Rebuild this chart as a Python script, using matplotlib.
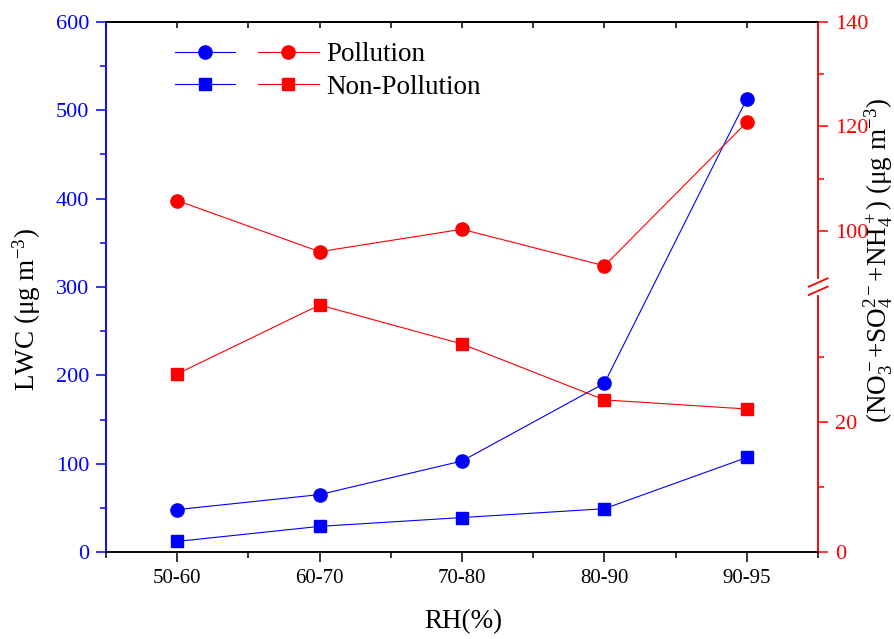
import matplotlib
matplotlib.use("Agg")
import matplotlib.pyplot as plt
import numpy as np
from matplotlib.legend_handler import HandlerTuple
from matplotlib.ticker import FixedLocator

# ── Data ──────────────────────────────────────────────────────────────────────
rh_bins = ["50-60", "60-70", "70-80", "80-90", "90-95"]

lwc_pollution     = [48, 65, 103, 191, 513]
lwc_non_pollution = [12, 29, 39, 49, 107]

ions_pollution     = [105.8, 96.0, 100.3, 93.3, 120.8]
ions_non_pollution = [27.4, 38.0, 32.0, 23.4, 22.0]

plt.rcParams["font.family"] = ["Liberation Serif", "DejaVu Serif"]
plt.rcParams["mathtext.fontset"] = "custom"
plt.rcParams["mathtext.rm"] = "Liberation Serif"
plt.rcParams["mathtext.it"] = "Liberation Serif:italic"

BLUE = "#0000ff"
RED = "#ff0000"

# ── Broken right axis: 0-40 lower half, 90-140 upper half ────────────────────
brk_f = [0.0, 0.4906, 0.5075, 1.0]


def fwd(v):
    v = np.asarray(v, dtype=float)
    return np.where(v <= 40, v / 40 * brk_f[1],
           np.where(v <= 90, brk_f[1] + (v - 40) / 50 * (brk_f[2] - brk_f[1]),
                    brk_f[2] + (v - 90) / 50 * (1 - brk_f[2])))


def inv(f):
    f = np.asarray(f, dtype=float)
    return np.where(f <= brk_f[1], f / brk_f[1] * 40,
           np.where(f <= brk_f[2], 40 + (f - brk_f[1]) / (brk_f[2] - brk_f[1]) * 50,
                    90 + (f - brk_f[2]) / (1 - brk_f[2]) * 50))


fig = plt.figure(figsize=(8.94, 6.39), dpi=100)
ax = fig.add_axes([106 / 894, 1 - 552 / 639, 712 / 894, 530 / 639])
ax2 = ax.twinx()

x = np.arange(len(rh_bins))

# ── Left axis: LWC ────────────────────────────────────────────────────────────
b1, = ax.plot(x, lwc_pollution, color=BLUE, lw=0.8, marker="o", ms=9.5, mec=BLUE)
b2, = ax.plot(x, lwc_non_pollution, color=BLUE, lw=0.8, marker="s", ms=8, mec=BLUE)
ax.set_xlim(-0.5, 4.5)
ax.set_ylim(0, 600)
ax.set_yticks(np.arange(0, 601, 100))
ax.yaxis.set_minor_locator(FixedLocator(np.arange(50, 600, 100)))
ax.set_xticks(x)
ax.set_xticklabels(rh_bins)
ax.xaxis.set_minor_locator(FixedLocator(np.arange(-0.5, 4.6, 1)))

ax.tick_params(axis="y", which="both", direction="out", colors=BLUE,
               labelsize=16, width=1.1)
ax.tick_params(axis="y", which="major", length=7, pad=5)
ax.tick_params(axis="y", which="minor", length=4)
ax.tick_params(axis="x", which="both", direction="out", labelsize=15, width=1.1)
ax.tick_params(axis="x", which="major", length=7, pad=5)
ax.tick_params(axis="x", which="minor", length=4)

# small inward ticks along the top edge
top = ax.secondary_xaxis("top")
top.set_xticks(x)
top.xaxis.set_minor_locator(FixedLocator(np.arange(-0.5, 4.6, 1)))
top.tick_params(axis="x", which="both", direction="in", length=4, width=1.1,
                labeltop=False)
top.spines["top"].set_linewidth(1.1)

fig.text(27 / 894, 1 - 310 / 639, "LWC (μg m$^{-3}$)", fontsize=19.5,
         rotation=90, ha="center", va="center")
fig.text(463 / 894, 1 - 622 / 639, "RH(%)", fontsize=19.5,
         ha="center", va="center")

# ── Right axis: ions ──────────────────────────────────────────────────────────
r1, = ax2.plot(x, ions_pollution, color=RED, lw=0.8, marker="o", ms=9.5, mec=RED)
r2, = ax2.plot(x, ions_non_pollution, color=RED, lw=0.8, marker="s", ms=8, mec=RED)
ax2.set_yscale("function", functions=(fwd, inv))
ax2.set_ylim(0, 140)
ax2.yaxis.set_major_locator(FixedLocator([0, 20, 100, 120, 140]))
ax2.yaxis.set_minor_locator(FixedLocator([10, 30, 110, 130]))
ax2.yaxis.set_major_formatter(plt.FuncFormatter(lambda v, p: f"{v:.0f}"))
ax2.yaxis.set_minor_formatter(plt.NullFormatter())
ax2.tick_params(axis="y", which="both", direction="out", colors=RED,
                labelsize=16, width=1.1)
ax2.tick_params(axis="y", which="major", length=7, pad=5)
ax2.tick_params(axis="y", which="minor", length=4)

fig.text(879 / 894, 1 - 260 / 639,
         "(NO$_3^-$+SO$_4^{2-}$+NH$_4^+$) (μg m$^{-3}$)",
         fontsize=19.5, rotation=90, ha="center", va="center")

for a in (ax, ax2):
    a.spines["left"].set_color(BLUE)
    a.spines["right"].set_color(RED)
    a.spines["top"].set_color("black")
    a.spines["bottom"].set_color("black")
    for s in a.spines.values():
        s.set_linewidth(1.1)

# break marks on the right spine
ax2.plot([1.0, 1.0], [0.488, 0.512], color="white", lw=3,
         transform=ax2.transAxes, clip_on=False, zorder=5)
for y0 in (0.4849, 0.5006):
    ax2.plot([0.987, 1.0135], [y0, y0 + 0.0158], color=RED, lw=1.3,
             transform=ax2.transAxes, clip_on=False, zorder=6)

# ── Legend ────────────────────────────────────────────────────────────────────
ax2.legend([(b1, r1), (b2, r2)], ["Pollution", "Non-Pollution"],
           handler_map={tuple: HandlerTuple(ndivide=None, pad=0.85)},
           loc="upper left", bbox_to_anchor=(0.097, 0.962),
           frameon=False, fontsize=19.5, handlelength=5.3,
           handletextpad=0.3, labelspacing=0.28, borderpad=0, borderaxespad=0)

fig.savefig("out.png", dpi=100)
